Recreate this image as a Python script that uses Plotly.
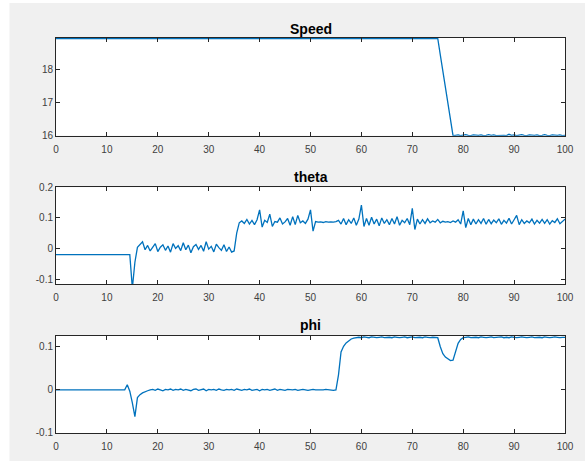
import plotly.graph_objects as go

# Sampled signals, one value every 0.5 s from t = 0 to t = 100
SAMPLE_STEP = 0.5

speed = [
    18.92, 18.92, 18.92, 18.92, 18.92, 18.92, 18.92, 18.92, 18.92, 18.92,
    18.92, 18.92, 18.92, 18.92, 18.92, 18.92, 18.92, 18.92, 18.92, 18.92,
    18.92, 18.92, 18.92, 18.92, 18.92, 18.92, 18.92, 18.92, 18.92, 18.92,
    18.92, 18.91, 18.92, 18.90, 18.92, 18.91, 18.92, 18.92, 18.90, 18.91,
    18.92, 18.91, 18.92, 18.90, 18.92, 18.92, 18.91, 18.92, 18.90, 18.92,
    18.91, 18.92, 18.92, 18.90, 18.91, 18.92, 18.91, 18.92, 18.90, 18.92,
    18.92, 18.91, 18.92, 18.90, 18.92, 18.91, 18.92, 18.92, 18.91, 18.90,
    18.92, 18.91, 18.92, 18.92, 18.90, 18.92, 18.91, 18.92, 18.91, 18.92,
    18.90, 18.92, 18.91, 18.92, 18.92, 18.91, 18.90, 18.92, 18.91, 18.92,
    18.92, 18.90, 18.92, 18.91, 18.92, 18.91, 18.92, 18.90, 18.92, 18.91,
    18.92, 18.92, 18.91, 18.90, 18.92, 18.91, 18.92, 18.92, 18.90, 18.91,
    18.92, 18.91, 18.92, 18.90, 18.92, 18.92, 18.91, 18.92, 18.90, 18.92,
    18.91, 18.92, 18.90, 18.92, 18.91, 18.92, 18.92, 18.90, 18.91, 18.92,
    18.92, 18.91, 18.92, 18.90, 18.92, 18.91, 18.92, 18.91, 18.90, 18.92,
    18.91, 18.92, 18.92, 18.90, 18.91, 18.92, 18.91, 18.92, 18.90, 18.92,
    18.92,
    18.43, 17.95, 17.46, 16.97, 16.49, 16.00,
    16.01, 16.02, 16.00, 16.01, 16.03, 16.01, 16.00, 16.02, 16.01, 16.01,
    16.02, 16.00, 16.01, 16.03, 16.01, 16.02, 16.00, 16.01, 16.02, 16.01,
    16.00, 16.04, 16.01, 16.02, 16.00, 16.01, 16.03, 16.01, 16.00, 16.02,
    16.01, 16.01, 16.02, 16.00, 16.01, 16.03, 16.01, 16.00, 16.02, 16.01,
    16.01, 16.02, 16.00, 16.01,
]

theta = [
    -0.02, -0.02, -0.02, -0.02, -0.02, -0.02, -0.02, -0.02, -0.02, -0.02,
    -0.02, -0.02, -0.02, -0.02, -0.02, -0.02, -0.02, -0.02, -0.02, -0.02,
    -0.02, -0.02, -0.02, -0.02, -0.02, -0.02, -0.02, -0.02, -0.02, -0.02,
    -0.13, -0.045, 0.004, 0.013,
    0.022, -0.004, 0.010, -0.008, 0.006, 0.016, -0.010, 0.004, 0.012, -0.006,
    0.008, -0.012, 0.016, 0.000, 0.009, -0.007, 0.019, -0.004, 0.011, -0.014,
    0.006, 0.013, -0.003, 0.010, -0.009, 0.022, -0.002, 0.007, -0.011, 0.014,
    0.003, -0.006, 0.012, -0.010, 0.005, -0.012, -0.008,
    0.050,
    0.084, 0.090, 0.082, 0.095, 0.080, 0.092, 0.078, 0.094, 0.126, 0.070,
    0.092, 0.085, 0.112, 0.072, 0.088, 0.086, 0.100, 0.080, 0.087, 0.098,
    0.076, 0.104, 0.078, 0.108, 0.084, 0.090, 0.082, 0.096, 0.126, 0.057,
    0.088, 0.086, 0.087, 0.085, 0.088, 0.086, 0.087, 0.086, 0.088, 0.092,
    0.080, 0.098, 0.078, 0.094, 0.082, 0.100, 0.076, 0.096, 0.142, 0.072,
    0.098, 0.076, 0.102, 0.080, 0.096, 0.074, 0.100, 0.082, 0.094, 0.078,
    0.098, 0.080, 0.104, 0.076, 0.092, 0.084, 0.098, 0.078, 0.131, 0.062,
    0.096, 0.080, 0.094, 0.082, 0.097, 0.084, 0.090, 0.086, 0.095, 0.084,
    0.089, 0.086, 0.088, 0.085, 0.090, 0.086, 0.094, 0.080, 0.123, 0.068,
    0.098, 0.078, 0.096, 0.080, 0.094, 0.082, 0.098, 0.079, 0.095, 0.081,
    0.093, 0.084, 0.097, 0.079, 0.092, 0.083, 0.099, 0.080, 0.094, 0.108,
    0.078, 0.094, 0.082, 0.090, 0.084, 0.096, 0.080, 0.092, 0.083, 0.095,
    0.082, 0.094, 0.080, 0.091, 0.085, 0.097, 0.081, 0.090, 0.096,
]

phi = [
    0.000, 0.000, 0.000, 0.000, 0.000, 0.000, 0.000, 0.000, 0.000, 0.000,
    0.000, 0.000, 0.000, 0.000, 0.000, 0.000, 0.000, 0.000, 0.000, 0.000,
    0.000, 0.000, 0.000, 0.000, 0.000, 0.000, 0.000, 0.000,
    0.012, -0.003, -0.030, -0.062, -0.018, -0.011, -0.007, -0.004, -0.002, 0.000,
    0.001, -0.001, 0.002, 0.000, -0.002, 0.001, 0.000, 0.002, -0.001, 0.001,
    0.000, 0.002, -0.001, 0.001, 0.000, -0.002, 0.001, 0.002, -0.001, 0.000,
    0.002, -0.002, 0.001, 0.000, 0.001, -0.001, 0.002, 0.000, -0.001, 0.001,
    0.000, 0.001, -0.001, 0.002, 0.000, -0.001, 0.001, 0.000, 0.002, -0.001,
    0.000, 0.001, -0.002, 0.001, 0.000, 0.001, -0.001, 0.000, 0.002, -0.001,
    0.001, 0.000, -0.001, 0.001, 0.000, 0.000, 0.001, -0.001, 0.000, 0.001,
    0.000, -0.001, 0.000, 0.001, 0.000, 0.000, -0.001, 0.000, 0.001, 0.000,
    0.000, -0.001, 0.000,
    0.035, 0.088, 0.101, 0.109, 0.114, 0.118, 0.120,
    0.121, 0.122, 0.121, 0.123, 0.122, 0.121, 0.123, 0.122, 0.121, 0.122,
    0.123, 0.121, 0.122, 0.122, 0.121, 0.123, 0.122, 0.121, 0.122, 0.123,
    0.121, 0.122, 0.123, 0.121, 0.122, 0.122, 0.121, 0.123, 0.122, 0.121,
    0.122, 0.122, 0.121,
    0.100, 0.084, 0.076, 0.071, 0.068, 0.069, 0.092, 0.108, 0.117, 0.121,
    0.122, 0.123, 0.121, 0.122, 0.122, 0.121, 0.123, 0.122, 0.121, 0.122,
    0.123, 0.121, 0.122, 0.122, 0.123, 0.121, 0.122, 0.121, 0.123, 0.122,
    0.121, 0.122, 0.123, 0.122, 0.121, 0.122, 0.123, 0.121, 0.122, 0.122,
    0.121, 0.123, 0.122, 0.121, 0.122, 0.123, 0.122, 0.121, 0.122, 0.122,
]

titles = ["Speed", "theta", "phi"]
x_ticks = [0, 10, 20, 30, 40, 50, 60, 70, 80, 90, 100]
speed_ticks = [16, 17, 18]
speed_tick_text = ["16", "17", "18"]
theta_ticks = [-0.1, 0, 0.1, 0.2]
theta_tick_text = ["-0.1", "0", "0.1", "0.2"]
phi_ticks = [-0.1, 0, 0.1]
phi_tick_text = ["-0.1", "0", "0.1"]

time = [i * SAMPLE_STEP for i in range(len(speed))]

LINE_BLUE = "#0072BD"
AXIS_COLOR = "#262626"
FONT = "Liberation Sans, Arial, sans-serif"

fig = go.Figure()
for k, series in enumerate([speed, theta, phi]):
    suffix = "" if k == 0 else str(k + 1)
    fig.add_trace(go.Scatter(
        x=time, y=series, mode="lines",
        line=dict(color=LINE_BLUE, width=1.3),
        xaxis="x" + suffix, yaxis="y" + suffix,
        showlegend=False, hoverinfo="skip",
    ))

axis_common = dict(
    showline=True, linecolor=AXIS_COLOR, linewidth=1, mirror="allticks",
    ticks="inside", ticklen=4, tickcolor=AXIS_COLOR, tickwidth=1,
    showgrid=False, zeroline=False, automargin=False,
    tickfont=dict(family=FONT, size=10, color="#404040"),
)

domains = [[0.7527, 1.0], [0.3765, 0.622], [0.0, 0.2456]]
y_ranges = [[15.998, 18.935], [-0.117, 0.2], [-0.1, 0.125]]
y_tickvals = [speed_ticks, theta_ticks, phi_ticks]
y_ticktext = [speed_tick_text, theta_tick_text, phi_tick_text]

layout = dict(
    width=585, height=461,
    margin=dict(l=56, r=20, t=38, b=28, autoexpand=False),
    paper_bgcolor="#f0f0f0", plot_bgcolor="white",
    font=dict(family=FONT, color=AXIS_COLOR),
)
for k in range(3):
    suffix = "" if k == 0 else str(k + 1)
    layout["xaxis" + suffix] = dict(
        axis_common, domain=[0, 1], range=[0, 100], anchor="y" + suffix,
        tickvals=x_ticks, ticktext=[str(v) for v in x_ticks],
        ticklabelstandoff=4,
    )
    layout["yaxis" + suffix] = dict(
        axis_common, domain=domains[k], range=y_ranges[k], anchor="x" + suffix,
        tickvals=y_tickvals[k], ticktext=y_ticktext[k],
    )
fig.update_layout(**layout)

# Subplot titles
title_y = [1.024, 0.649, 0.2734]
for text, ty in zip(titles, title_y):
    fig.add_annotation(
        text="<b>%s</b>" % text, x=0.5, y=ty, xref="paper", yref="paper",
        xanchor="center", yanchor="middle", showarrow=False,
        font=dict(family=FONT, size=14, color="#000000"),
    )

# White border strips around the grey figure window
fig.add_shape(type="rect", xref="paper", yref="paper",
              x0=-0.2, x1=-0.0914, y0=-0.2, y1=1.2,
              fillcolor="white", line_width=0, layer="below")
fig.add_shape(type="rect", xref="paper", yref="paper",
              x0=-0.2, x1=1.2, y0=1.0886, y1=1.2,
              fillcolor="white", line_width=0, layer="below")

fig.write_html("out.html")
